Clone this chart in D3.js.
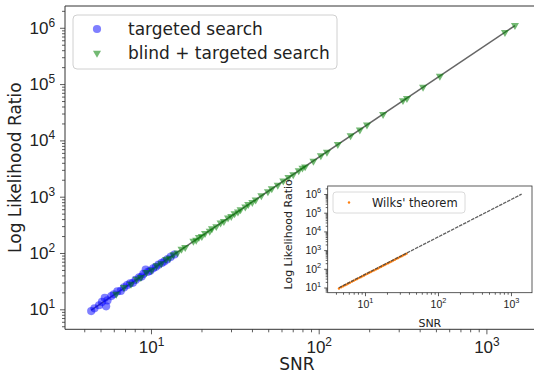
<!DOCTYPE html>
<html>
<head>
<meta charset="utf-8">
<script src="https://cdn.jsdelivr.net/npm/d3@7"></script>
<style>
  body { margin: 0; background: #fff; }
  svg { display: block; font-family: "DejaVu Sans", sans-serif; }
</style>
</head>
<body>
<svg id="chart" width="534" height="375"></svg>
<script>
// targeted search (blue circles)
const blueSnr = [4.4, 4.6, 4.9, 5.1, 5.3, 5.4, 5.5, 5.8, 6.0, 6.3, 6.6, 6.9, 7.2, 7.5, 7.8,
  8.1, 8.5, 8.8, 9.0, 9.3, 9.6, 9.9, 10.3, 10.7, 11.1, 11.6, 12.0, 12.5, 13.1, 13.8];
const blueLlr = [9.3, 10.4, 11.8, 13.5, 15.9, 11.3, 14.4, 17.2, 18.5, 20.8, 21.2, 24.5, 26.8, 28.9, 29.5,
  33.2, 37.0, 38.1, 42.5, 50.8, 46.3, 48.2, 53.5, 56.8, 62.1, 66.5, 70.4, 77.0, 85.3, 94.1];

// blind + targeted search (green triangles)
const greenSnr = [6.2, 6.9, 7.6, 8.2, 8.7, 9.4, 10.1, 10.8, 11.5, 12.3, 12.9, 13.6, 14.4, 15.2, 16.0,
  17.9, 18.6, 19.3, 20.1, 21.0, 22.4, 23.1, 24.5, 26.0, 27.2, 28.8, 30.1, 31.5, 33.0, 34.2,
  36.5, 38.0, 40.2, 42.1, 45.5, 49.8, 52.5, 57.0, 61.5, 66.0, 70.5, 76.0, 80.0, 83.0, 93.0,
  103, 112, 130, 155, 176, 194, 242, 318, 336, 419, 528, 1290, 1480];
const greenLlr = [18.7, 24.5, 28.1, 34.5, 36.9, 45.3, 49.6, 59.5, 64.8, 76.9, 81.4, 94.0, 101.2, 117.3, 126,
  163, 170, 189, 198, 224, 246, 271, 296, 343, 364, 421, 447, 503, 538, 592,
  658, 731, 795, 879, 1046, 1228, 1390, 1612, 1905, 2210, 2460, 2915, 3240, 3410, 4280,
  5350, 6210, 8500, 12130, 15400, 18950, 29100, 51200, 56000, 88500, 139000, 830000, 1102000];

// gray reference line (end points)
const lineSnr = [4.4, 1480];
const lineLlr = [9.7, 1095200];

// inset: Wilks' theorem (orange)
const wilksSnr = [4.4, 4.7, 5.0, 5.3, 5.6, 5.9, 6.2, 6.6, 7.0, 7.4, 7.8, 8.2, 8.7, 9.2, 9.7,
  10.2, 10.8, 11.4, 12.0, 12.7, 13.4, 14.2, 15.0, 15.8, 16.7, 17.6, 18.6, 19.6, 20.7, 21.8,
  23.0, 24.3, 25.6, 27.0, 28.5, 30.0, 31.7, 33.4, 35.2, 37.0];
const wilksLlr = [8.9, 10.3, 11.6, 13.2, 14.6, 16.5, 17.9, 20.6, 22.8, 25.9, 28.4, 31.9, 35.2, 40.1, 43.8,
  49.3, 54.5, 61.6, 67.3, 76.1, 83.7, 95.2, 104.6, 118.0, 129.5, 146.3, 160.5, 181.2, 198.7, 224.3,
  245.6, 279.0, 303.9, 344.5, 377.6, 425.3, 466.8, 527.4, 575.8, 646.9];
const insetLineSnr = [4.4, 1400];
const insetLineLlr = [9.7, 980000];

const xMajors = [10, 100, 1000];
const yMajors = [10, 100, 1000, 1e4, 1e5, 1e6];

let svg = d3.select("#chart");

function minorTicks(lo, hi) {
  let out = [];
  for (let e = -1; e <= 7; e++) {
    for (let k = 2; k <= 9; k++) {
      let v = k * Math.pow(10, e);
      if (v > lo && v < hi) out.push(v);
    }
  }
  return out;
}

function powLabels(g, fs) {
  g.selectAll(".tick text").each(function(d) {
    let t = d3.select(this);
    let e = Math.round(Math.log10(d));
    t.text(null);
    t.append("tspan").text("10");
    t.append("tspan").attr("dy", -fs * 0.42).style("font-size", (fs * 0.7) + "px").text(e);
  });
}

function drawAxes(g, x, y, opt) {
  let xd = x.domain(), yd = y.domain();
  let b = y.range()[0], l = x.range()[0];

  let xa = g.append("g").attr("transform", "translate(0," + b + ")")
    .call(d3.axisBottom(x).tickValues(xMajors.filter(v => v > xd[0] && v < xd[1]))
      .tickSize(opt.major).tickPadding(opt.padX).tickFormat(d => d));
  xa.select(".domain").remove();
  xa.selectAll("text").style("font-size", opt.fs + "px").attr("fill", "#222");
  powLabels(xa, opt.fs);
  g.append("g").attr("transform", "translate(0," + b + ")")
    .call(d3.axisBottom(x).tickValues(minorTicks(xd[0], xd[1])).tickSize(opt.minor).tickFormat(""))
    .select(".domain").remove();

  let ya = g.append("g").attr("transform", "translate(" + l + ",0)")
    .call(d3.axisLeft(y).tickValues(yMajors.filter(v => v > yd[0] && v < yd[1]))
      .tickSize(opt.major).tickPadding(opt.padY).tickFormat(d => d));
  ya.select(".domain").remove();
  ya.selectAll("text").style("font-size", opt.fs + "px").attr("fill", "#222");
  powLabels(ya, opt.fs);
  g.append("g").attr("transform", "translate(" + l + ",0)")
    .call(d3.axisLeft(y).tickValues(minorTicks(yd[0], yd[1])).tickSize(opt.minor).tickFormat(""))
    .select(".domain").remove();

  g.selectAll(".tick line").attr("stroke", "#333").attr("stroke-width", 0.8);
}

// ---------------- main axes ----------------
let main = { left: 65, right: 535, top: 6, bottom: 329.3 };
let x = d3.scaleLog().domain([Math.pow(10, 0.4872), Math.pow(10, 3.2898)]).range([main.left, main.right]);
let y = d3.scaleLog().domain([Math.pow(10, 0.6448), Math.pow(10, 6.387)]).range([main.bottom, main.top]);

let gMain = svg.append("g");

gMain.append("path")
  .attr("d", d3.line().x(d => x(d[0])).y(d => y(d[1]))(d3.zip(lineSnr, lineLlr)))
  .attr("stroke", "#666")
  .attr("stroke-width", 1.5)
  .attr("fill", "none");

gMain.selectAll(".blue").data(d3.zip(blueSnr, blueLlr)).enter().append("circle")
  .attr("cx", d => x(d[0]))
  .attr("cy", d => y(d[1]))
  .attr("r", 4.1)
  .style("fill", "#0000ff")
  .style("fill-opacity", 0.5);

let tri = d3.symbol().type(d3.symbolTriangle).size(28);
gMain.selectAll(".green").data(d3.zip(greenSnr, greenLlr)).enter().append("path")
  .attr("d", tri)
  .attr("transform", d => "translate(" + x(d[0]) + "," + y(d[1]) + ")rotate(180)")
  .style("fill", "#008000")
  .style("fill-opacity", 0.55);

// spines
gMain.append("line").attr("x1", main.left).attr("x2", main.right).attr("y1", main.top).attr("y2", main.top)
  .attr("stroke", "#333").attr("stroke-width", 1);
gMain.append("line").attr("x1", main.left).attr("x2", main.right).attr("y1", main.bottom).attr("y2", main.bottom)
  .attr("stroke", "#333").attr("stroke-width", 1);
gMain.append("line").attr("x1", main.left).attr("x2", main.left).attr("y1", main.top).attr("y2", main.bottom)
  .attr("stroke", "#333").attr("stroke-width", 1);

drawAxes(gMain, x, y, { fs: 17, major: 5, minor: 3, padX: 7, padY: 5 });

gMain.append("text")
  .attr("x", (main.left + main.right) / 2 - 3)
  .attr("y", 370)
  .text("SNR")
  .style("text-anchor", "middle")
  .style("font-size", "17px")
  .attr("fill", "#222");
gMain.append("text")
  .attr("transform", "translate(21," + ((main.top + main.bottom) / 2) + ")rotate(-90)")
  .text("Log Likelihood Ratio")
  .style("text-anchor", "middle")
  .style("font-size", "17px")
  .attr("fill", "#222");

// legend
gMain.append("rect")
  .attr("x", 73).attr("y", 15).attr("width", 264).attr("height", 54).attr("rx", 4)
  .style("fill", "white").style("fill-opacity", 0.8)
  .style("stroke", "#d0d0d0").style("stroke-width", 1);
gMain.append("circle").attr("cx", 97).attr("cy", 29).attr("r", 4.1)
  .style("fill", "#0000ff").style("fill-opacity", 0.5);
gMain.append("path").attr("d", tri).attr("transform", "translate(97,53)rotate(180)")
  .style("fill", "#008000").style("fill-opacity", 0.55);
gMain.append("text").attr("x", 128).attr("y", 35).text("targeted search")
  .style("font-size", "17px").attr("fill", "#222");
gMain.append("text").attr("x", 128).attr("y", 59).text("blind + targeted search")
  .style("font-size", "17px").attr("fill", "#222");

// ---------------- inset ----------------
let ins = { left: 327.7, right: 532, top: 186, bottom: 292.7 };
let xi = d3.scaleLog().domain([Math.pow(10, 0.489), Math.pow(10, 3.288)]).range([ins.left, ins.right]);
let yi = d3.scaleLog().domain([Math.pow(10, 0.722), Math.pow(10, 6.428)]).range([ins.bottom, ins.top]);

let gIns = svg.append("g");
gIns.append("rect")
  .attr("x", ins.left).attr("y", ins.top)
  .attr("width", ins.right - ins.left).attr("height", ins.bottom - ins.top)
  .style("fill", "white").style("stroke", "#333").style("stroke-width", 0.8);

gIns.selectAll(".wilks").data(d3.zip(wilksSnr, wilksLlr)).enter().append("circle")
  .attr("cx", d => xi(d[0]))
  .attr("cy", d => yi(d[1]))
  .attr("r", 1.2)
  .style("fill", "#ff7f0e");

gIns.append("path")
  .attr("d", d3.line().x(d => xi(d[0])).y(d => yi(d[1]))(d3.zip(insetLineSnr, insetLineLlr)))
  .attr("stroke", "#444")
  .attr("stroke-width", 1.3)
  .attr("stroke-dasharray", "3.5,1")
  .style("stroke-opacity", 0.85)
  .attr("fill", "none");

drawAxes(gIns, xi, yi, { fs: 10.5, major: 3.5, minor: 2, padX: 4, padY: 3 });

gIns.append("text")
  .attr("x", (ins.left + ins.right) / 2)
  .attr("y", 327)
  .text("SNR")
  .style("text-anchor", "middle")
  .style("font-size", "11px")
  .attr("fill", "#222");
gIns.append("text")
  .attr("transform", "translate(292," + ((ins.top + ins.bottom) / 2 - 5) + ")rotate(-90)")
  .text("Log Likelihood Ratio")
  .style("text-anchor", "middle")
  .style("font-size", "11px")
  .attr("fill", "#222");

gIns.append("rect")
  .attr("x", 333).attr("y", 192).attr("width", 132).attr("height", 21).attr("rx", 3)
  .style("fill", "white").style("fill-opacity", 0.8)
  .style("stroke", "#d0d0d0").style("stroke-width", 0.8);
gIns.append("circle").attr("cx", 349).attr("cy", 202.5).attr("r", 1.2).style("fill", "#ff7f0e");
gIns.append("text").attr("x", 372).attr("y", 206.5).text("Wilks' theorem")
  .style("font-size", "11.5px").attr("fill", "#222");
</script>
</body>
</html>
